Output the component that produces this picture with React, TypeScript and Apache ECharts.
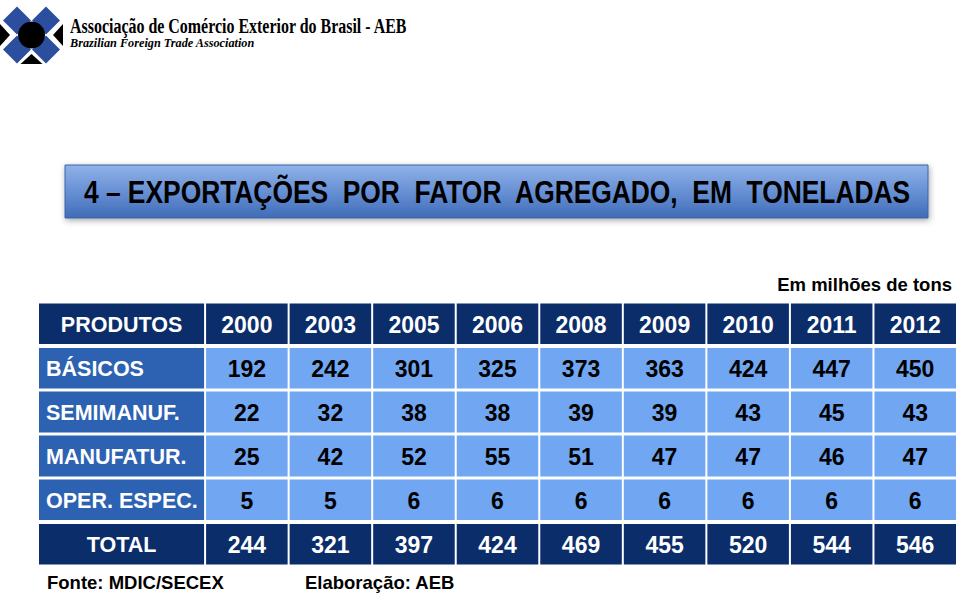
import React, { useEffect, useRef } from "react";
import * as echarts from "echarts";

const years = ["2000", "2003", "2005", "2006", "2008", "2009", "2010", "2011", "2012"];
const products = ["BÁSICOS", "SEMIMANUF.", "MANUFATUR.", "OPER. ESPEC."];
const basicos = [192, 242, 301, 325, 373, 363, 424, 447, 450];
const semimanuf = [22, 32, 38, 38, 39, 39, 43, 45, 43];
const manufatur = [25, 42, 52, 55, 51, 47, 47, 46, 47];
const operEspec = [5, 5, 6, 6, 6, 6, 6, 6, 6];
const totals = [244, 321, 397, 424, 469, 455, 520, 544, 546];
const headerLabel = "PRODUTOS";
const totalLabel = "TOTAL";
const titleText = "4 – EXPORTAÇÕES  POR  FATOR  AGREGADO,  EM  TONELADAS";
const unitNote = "Em milhões de tons";
const sourceNote = "Fonte: MDIC/SECEX";
const authorNote = "Elaboração: AEB";
const orgName = "Associação de Comércio Exterior do Brasil - AEB";
const orgNameEn = "Brazilian Foreign Trade Association";

const NAVY = "#0b2d69";
const MID = "#2c62b1";
const LIGHT = "#70a6f2";
const SANS = "'Liberation Sans', Arial, Helvetica, sans-serif";
const SERIF = "'Liberation Serif', 'Times New Roman', serif";

function measure(text: string, font: string): number {
  const c = document.createElement("canvas").getContext("2d");
  if (!c) return 1;
  c.font = font;
  return c.measureText(text).width || 1;
}

type Cell = { col: number; row: number; span: number; text: string; kind: string };

function buildCells(): Cell[] {
  const cells: Cell[] = [];
  cells.push({ col: 0, row: 0, span: 2, text: headerLabel, kind: "head" });
  years.forEach((y, i) => cells.push({ col: 2 + i, row: 0, span: 1, text: y, kind: "head" }));
  const rows = [basicos, semimanuf, manufatur, operEspec];
  products.forEach((p, r) => {
    cells.push({ col: 0, row: r + 1, span: 2, text: p, kind: "label" });
    rows[r].forEach((v, i) => cells.push({ col: 2 + i, row: r + 1, span: 1, text: String(v), kind: "num" }));
  });
  cells.push({ col: 0, row: 5, span: 2, text: totalLabel, kind: "head" });
  totals.forEach((v, i) => cells.push({ col: 2 + i, row: 5, span: 1, text: String(v), kind: "head" }));
  return cells;
}

export default function App() {
  const ref = useRef<HTMLDivElement>(null);
  useEffect(() => {
    document.body.style.margin = "0";
    if (!ref.current) return;
    const chart = echarts.init(ref.current, undefined, { renderer: "svg" });
    const cells = buildCells();

    const titleFont = `bold 31px ${SANS}`;
    const titleScale = 828 / measure(titleText, titleFont);
    const orgFont = `bold 20px ${SERIF}`;
    const orgScale = 338 / measure(orgName, orgFont);
    const orgEnFont = `italic bold 13px ${SERIF}`;
    const orgEnScale = 185 / measure(orgNameEn, orgEnFont);

    const blue = "#2b4f9e";
    const cx = 31.5, cy = 35, d = 14;
    const diamond = (x: number, y: number) => ({
      type: "polygon",
      shape: { points: [[x, y - d], [x + d, y], [x, y + d], [x - d, y]] },
      style: { fill: blue },
    });

    chart.setOption({
      animation: false,
      grid: { left: 38, top: 302, width: 919, height: 264 },
      xAxis: { type: "category", data: Array.from({ length: 11 }, (_, i) => String(i)), show: false },
      yAxis: { type: "category", data: Array.from({ length: 6 }, (_, i) => String(i)), show: false, inverse: true },
      series: [
        {
          type: "custom",
          data: cells.map((c) => [c.col, c.row]),
          renderItem: (params: any, api: any) => {
            const cell = cells[params.dataIndex];
            const size = api.size([1, 1]);
            const p = api.coord([cell.col, cell.row]);
            const x0 = p[0] - size[0] / 2;
            const w = size[0] * cell.span;
            const y0 = p[1] - size[1] / 2;
            const h = size[1];
            let top = 1.5, bottom = 1.5;
            if (cell.row === 0) bottom = 2;
            if (cell.row === 1) top = 2;
            if (cell.row === 4) bottom = 2;
            if (cell.row === 5) top = 2;
            const rect = { x: x0 + 1, y: y0 + top, width: w - 2, height: h - top - bottom };
            let fill = LIGHT, color = "#000", align = "center", tx = x0 + w / 2;
            if (cell.kind === "head") { fill = NAVY; color = "#fff"; }
            if (cell.kind === "label") { fill = MID; color = "#fff"; align = "left"; tx = x0 + 8; }
            const isNum = cell.col >= 2;
            return {
              type: "group",
              children: [
                { type: "rect", shape: rect, style: { fill } },
                {
                  type: "text",
                  x: tx,
                  y: rect.y + rect.height / 2 + 1,
                  style: {
                    text: cell.text,
                    fill: color,
                    fontSize: isNum ? 23 : 21.5,
                    fontWeight: "bold",
                    fontFamily: SANS,
                    align,
                    verticalAlign: "middle",
                  },
                },
              ],
            };
          },
        },
      ],
      graphic: [
        {
          type: "group",
          children: [
            diamond(cx - d - 0.5, cy - d - 0.5),
            diamond(cx + d + 0.5, cy - d - 0.5),
            diamond(cx - d - 0.5, cy + d + 0.5),
            diamond(cx + d + 0.5, cy + d + 0.5),
            { type: "circle", shape: { cx, cy, r: 13.5 }, style: { fill: "#000" } },
            { type: "polygon", shape: { points: [[0, cy - 11], [10, cy], [0, cy + 11]] }, style: { fill: "#000" } },
            { type: "polygon", shape: { points: [[63, cy - 11], [53, cy], [63, cy + 11]] }, style: { fill: "#000" } },
            { type: "polygon", shape: { points: [[cx - 11, 64], [cx, 54], [cx + 11, 64]] }, style: { fill: "#000" } },
          ],
        },
        {
          type: "text",
          x: 70,
          y: 26,
          scaleX: orgScale,
          style: { text: orgName, font: orgFont, fill: "#000", align: "left", verticalAlign: "middle" },
        },
        {
          type: "text",
          x: 70,
          y: 43,
          scaleX: orgEnScale,
          style: { text: orgNameEn, font: orgEnFont, fill: "#000", align: "left", verticalAlign: "middle" },
        },
        {
          type: "rect",
          shape: { x: 65, y: 165, width: 863, height: 53 },
          style: {
            fill: new echarts.graphic.LinearGradient(0, 0, 0, 1, [
              { offset: 0, color: "#8fb2e8" },
              { offset: 0.5, color: "#6890d4" },
              { offset: 1, color: "#3f6cb6" },
            ]),
            stroke: "#3a64a8",
            lineWidth: 1,
            shadowBlur: 6,
            shadowColor: "rgba(0,0,0,0.35)",
            shadowOffsetX: 1,
            shadowOffsetY: 2,
          },
        },
        {
          type: "text",
          x: 497,
          y: 192,
          scaleX: titleScale,
          style: { text: titleText, font: titleFont, fill: "#000", align: "center", verticalAlign: "middle" },
        },
        {
          type: "text",
          x: 952,
          y: 284,
          style: { text: unitNote, font: `bold 18.5px ${SANS}`, fill: "#000", align: "right", verticalAlign: "middle" },
        },
        {
          type: "text",
          x: 47,
          y: 582,
          style: { text: sourceNote, font: `bold 18.5px ${SANS}`, fill: "#000", align: "left", verticalAlign: "middle" },
        },
        {
          type: "text",
          x: 305,
          y: 582,
          style: { text: authorNote, font: `bold 18.5px ${SANS}`, fill: "#000", align: "left", verticalAlign: "middle" },
        },
      ],
    });
    return () => chart.dispose();
  }, []);
  return <div ref={ref} style={{ width: 960, height: 594 }} />;
}
